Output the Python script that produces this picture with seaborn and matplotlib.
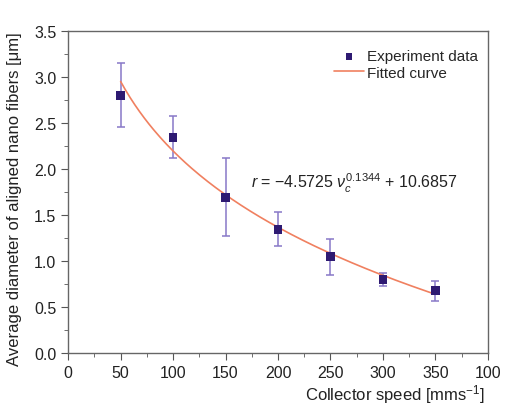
import numpy as np
import pandas as pd
import matplotlib
matplotlib.use('Agg')
import matplotlib.pyplot as plt
import seaborn as sns
from matplotlib.ticker import MultipleLocator

# Datos
speed = [50, 100, 150, 200, 250, 300, 350]
diameter = [2.80, 2.34, 1.69, 1.34, 1.05, 0.80, 0.68]
err_up = [3.15, 2.57, 2.12, 1.53, 1.24, 0.87, 0.78]
err_low = [2.46, 2.12, 1.27, 1.16, 0.85, 0.73, 0.57]

# Coeficientes del ajuste mostrados en la figura
coef_a = -4.5725
coef_b = 0.1344
coef_c = 10.6857

x_ticks = [0, 50, 100, 150, 200, 250, 300, 350, 400]
x_tick_labels = ['0', '50', '100', '150', '200', '250', '300', '350', '100']
y_ticks = [0.0, 0.5, 1.0, 1.5, 2.0, 2.5, 3.0, 3.5]

sns.set_style('ticks')
plt.rcParams['font.family'] = ['Liberation Sans', 'DejaVu Sans']
plt.rcParams['mathtext.fontset'] = 'custom'
plt.rcParams['mathtext.rm'] = 'Liberation Sans'
plt.rcParams['mathtext.it'] = 'Liberation Sans:italic'

df = pd.DataFrame({'speed': speed, 'diameter': diameter,
                   'up': err_up, 'low': err_low})
v_fit = np.linspace(50, 350, 200)
fit = pd.DataFrame({'v': v_fit, 'r': coef_a * v_fit ** coef_b + coef_c})

fig = plt.figure(figsize=(5.05, 4.14), dpi=100)
ax = fig.add_axes([0.135, 0.145, 0.831, 0.778])

# Barras de error
ax.errorbar(df['speed'], df['diameter'],
            yerr=[df['diameter'] - df['low'], df['up'] - df['diameter']],
            fmt='none', ecolor='#8878c8', elinewidth=1.1, capsize=3, capthick=1.1, zorder=2)

sns.lineplot(data=fit, x='v', y='r', color='#f08060', linewidth=1.2,
             label='Fitted curve', ax=ax, zorder=3)
sns.scatterplot(data=df, x='speed', y='diameter', marker='s', s=40,
                color='#2e1a72', edgecolor='none', label='Experiment data', ax=ax, zorder=4)

ax.set_xlim(0, 400)
ax.set_ylim(0, 3.5)
ax.set_xticks(x_ticks)
ax.set_xticklabels(x_tick_labels)
ax.set_yticks(y_ticks)
ax.set_yticklabels([f'{t:.1f}' for t in y_ticks])
ax.xaxis.set_minor_locator(MultipleLocator(25))
ax.yaxis.set_minor_locator(MultipleLocator(0.25))
ax.tick_params(axis='both', which='major', direction='out', length=5, labelsize=11.5,
               color='#555555', labelcolor='#222222')
ax.tick_params(axis='both', which='minor', direction='out', length=3, color='#555555')
for s in ax.spines.values():
    s.set_color('#666666')
    s.set_linewidth(1.0)

ax.set_xlabel('Collector speed [mms$^{-1}$]', fontsize=12, color='#222222')
ax.xaxis.set_label_coords(0.78, -0.09)
ax.set_ylabel('Average diameter of aligned nano fibers [\u03bcm]', fontsize=12, color='#222222')
ax.yaxis.set_label_coords(-0.11, 0.48)

ax.text(0.435, 0.53, '$r$ = \u22124.5725 $\\nu_c^{0.1344}$ + 10.6857',
        transform=ax.transAxes, fontsize=11.5, color='#222222', va='center')

handles, labels = ax.get_legend_handles_labels()
order = [labels.index('Experiment data'), labels.index('Fitted curve')]
ax.legend([handles[i] for i in order], [labels[i] for i in order],
          loc='upper right', bbox_to_anchor=(1.01, 0.985), frameon=False, fontsize=11,
          handlelength=2.0, handletextpad=0.2, labelspacing=0.15, markerscale=0.7)

plt.savefig('out.png', dpi=100)
